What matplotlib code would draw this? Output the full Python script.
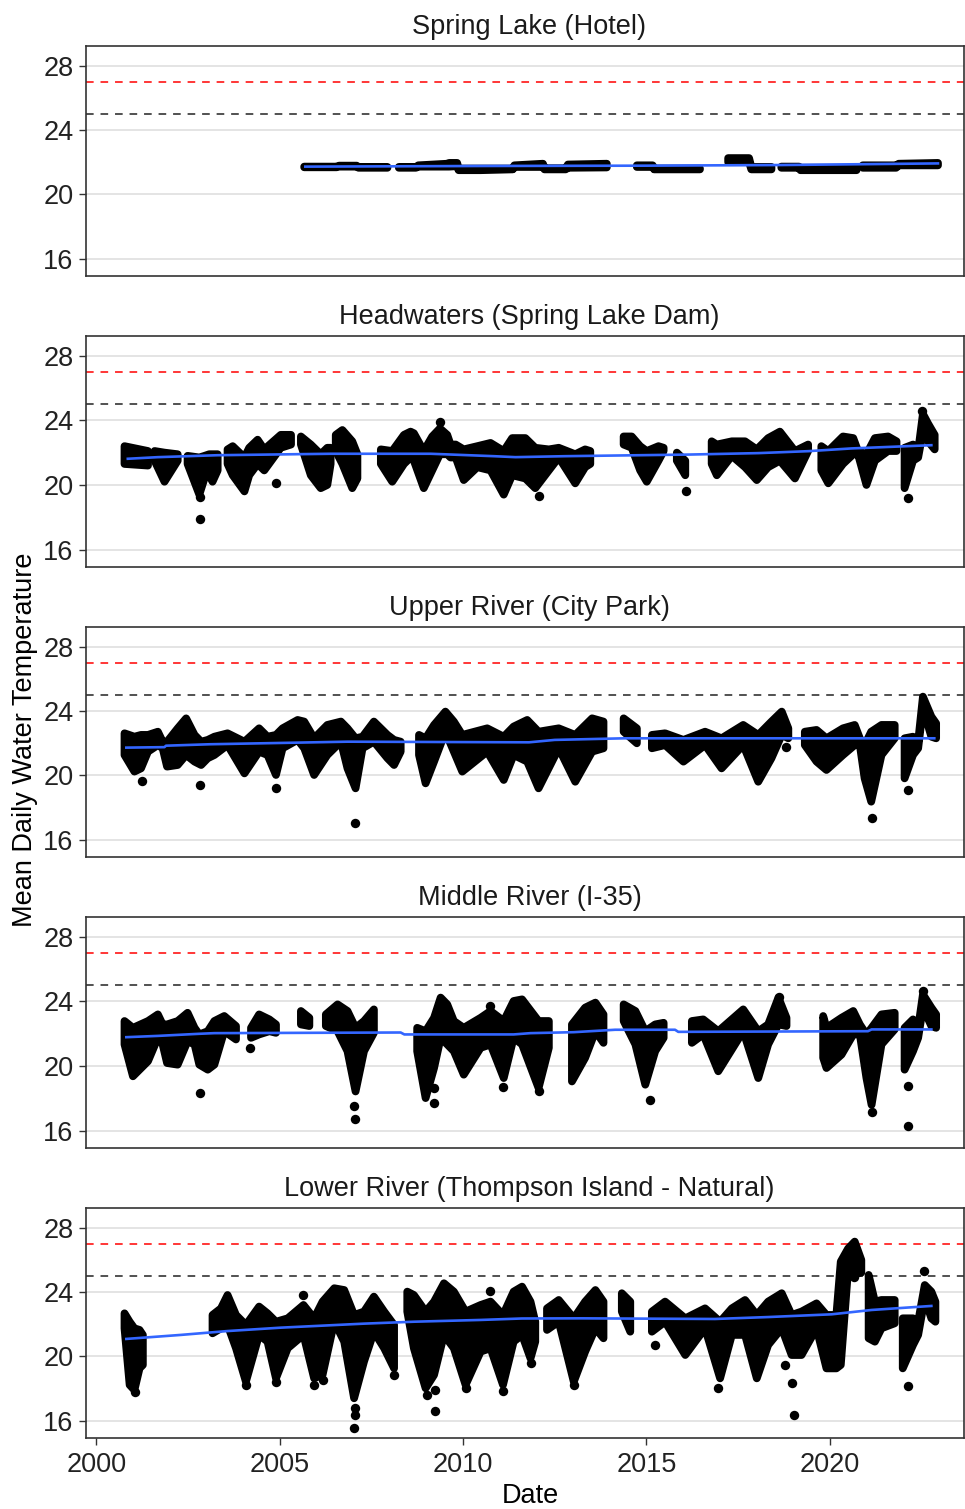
import numpy as np
import matplotlib
matplotlib.use("Agg")
import matplotlib.pyplot as plt

nan = np.nan

# ---------------- data ----------------
titles = ["Spring Lake (Hotel)", "Headwaters (Spring Lake Dam)", "Upper River (City Park)",
          "Middle River (I-35)", "Lower River (Thompson Island - Natural)"]
y_ticks = [16, 20, 24, 28]
x_ticks = [2000, 2005, 2010, 2015, 2020]
thresh_red = 27
thresh_black = 25

# Spring Lake (Hotel): daily-value envelope (low / high) by date
sl_t = [2005.67, 2006.55, 2006.62, 2007.10, 2007.15, 2007.94, nan, 2008.25, 2008.72, 2008.78, 2009.57,
        2009.62, 2009.84, 2009.88, 2010.48, 2011.36, 2011.40, 2012.18, 2012.22, 2012.80, 2012.86, 2013.92, nan,
        2014.74, 2015.17, 2015.21, 2016.46, nan, 2017.23, 2017.80, 2017.86, 2018.41, nan, 2018.68, 2019.16,
        2019.20, 2020.73, nan, 2020.90, 2021.81, 2021.88, 2022.95]
sl_lo = [21.68, 21.68, 21.72, 21.72, 21.65, 21.65, nan, 21.65, 21.65, 21.72, 21.72,
         21.72, 21.75, 21.50, 21.50, 21.55, 21.70, 21.70, 21.55, 21.55, 21.65, 21.67, nan,
         21.70, 21.70, 21.55, 21.55, nan, 22.00, 22.00, 21.55, 21.55, nan, 21.65, 21.65,
         21.50, 21.50, nan, 21.65, 21.65, 21.80, 21.80]
sl_hi = [21.72, 21.72, 21.78, 21.78, 21.70, 21.70, nan, 21.70, 21.70, 21.80, 21.90,
         21.95, 21.95, 21.60, 21.60, 21.60, 21.80, 21.90, 21.62, 21.62, 21.85, 21.90, nan,
         21.80, 21.80, 21.60, 21.60, nan, 22.25, 22.25, 21.70, 21.70, nan, 21.72, 21.72,
         21.65, 21.65, nan, 21.80, 21.80, 21.90, 21.95]
sl_pt_t = []
sl_pt_v = []
sl_fit_t = [2005.70, 2010.50, 2015.00, 2018.70, 2022.95]
sl_fit_v = [21.72, 21.76, 21.78, 21.82, 21.92]

# Headwaters (Spring Lake Dam)
hw_t = [2000.77, 2001.41, nan, 2001.59, 2001.86, 2002.22, nan, 2002.49, 2002.81, 2002.95, 2003.08, 2003.17,
        2003.31, nan, 2003.58, 2003.72, 2004.04, 2004.17, 2004.40, 2004.58, 2005.03, 2005.31, nan,
        2005.58, 2005.85, 2006.12, 2006.30, 2006.39, nan, 2006.53, 2006.71, 2006.98, 2007.12, nan,
        2007.76, 2008.07, 2008.39, 2008.57, 2008.66, 2008.93, 2009.16, 2009.37, 2009.57, 2009.66,
        2009.80, 2010.02, 2010.39, 2010.75, 2011.11, 2011.34, 2011.70, 2011.97, 2012.34, 2012.61,
        2013.06, 2013.33, 2013.47, nan, 2014.38, 2014.60, 2014.83, 2015.01, 2015.33, 2015.47, nan,
        2015.83, 2016.06, nan, 2016.78, 2016.92, 2017.33, 2017.69, 2018.01, 2018.32, 2018.64, 2019.05,
        2019.41, nan, 2019.77, 2019.96, 2020.36, 2020.64, 2020.77, 2021.00, 2021.23, 2021.59, 2021.82,
        nan, 2022.04, 2022.27, 2022.41, 2022.54, 2022.68, 2022.86]
hw_lo = [21.3, 21.2, nan, 21.5, 20.2, 21.5, nan, 21.3, 19.4, 20.4, 20.6, 20.2,
         20.9, nan, 21.3, 20.6, 19.6, 20.6, 21.3, 20.9, 22.3, 22.5, nan,
         22.5, 20.6, 19.8, 20.0, 21.3, nan, 22.1, 21.3, 19.8, 20.4, nan,
         21.3, 20.2, 21.3, 21.7, 21.5, 19.8, 20.9, 21.9, 21.9, 21.7,
         21.7, 20.3, 21.1, 20.9, 19.4, 20.6, 20.4, 19.8, 20.9, 21.7,
         20.1, 21.1, 21.3, nan, 22.5, 22.3, 20.9, 20.2, 21.5, 22.1, nan,
         21.5, 20.6, nan, 21.3, 20.6, 21.8, 21.1, 20.3, 21.1, 21.5, 20.4,
         22.1, nan, 20.9, 20.1, 21.3, 21.9, 21.9, 20.0, 21.5, 22.1, 22.1,
         nan, 19.8, 21.5, 21.7, 23.3, 22.7, 22.2]
hw_hi = [22.4, 22.1, nan, 22.1, 22.0, 21.9, nan, 21.8, 21.7, 21.8, 21.9, 21.9,
         21.9, nan, 22.2, 22.4, 21.7, 22.3, 22.8, 22.2, 23.1, 23.1, nan,
         23.0, 22.5, 21.9, 22.3, 22.3, nan, 23.1, 23.4, 22.7, 21.9, nan,
         22.2, 22.1, 23.1, 23.3, 23.2, 22.1, 23.0, 23.5, 23.1, 22.5,
         22.5, 22.2, 22.4, 22.6, 22.1, 22.9, 22.9, 22.3, 22.2, 22.3,
         21.9, 22.2, 22.1, nan, 23.0, 23.0, 22.4, 22.1, 22.4, 22.3, nan,
         22.0, 21.5, nan, 22.7, 22.5, 22.7, 22.7, 22.2, 22.9, 23.3, 22.1,
         22.5, nan, 22.4, 22.1, 23.0, 22.9, 22.1, 21.9, 22.9, 23.0, 22.7,
         nan, 22.3, 22.5, 22.1, 24.4, 23.8, 23.1]
hw_pt_t = [2002.84, 2002.84, 2004.90, 2009.37, 2012.08, 2016.07, 2022.14, 2022.51]
hw_pt_v = [17.90, 19.25, 20.12, 23.90, 19.33, 19.60, 19.20, 24.58]
hw_fit_t = [2000.86, 2001.68, 2003.31, 2006.39, 2009.12, 2010.84, 2011.43, 2012.79, 2016.15, 2018.05,
            2019.41, 2020.59, 2021.68, 2022.77]
hw_fit_v = [21.62, 21.72, 21.84, 21.93, 21.93, 21.78, 21.72, 21.78, 21.88, 21.97, 22.09, 22.26, 22.36, 22.46]

# Upper River (City Park)
up_t = [2000.77, 2001.04, 2001.22, 2001.41, 2001.68, 2001.81, 2001.93, 2002.22, 2002.45, 2002.68, 2002.86,
        2003.04, 2003.22, 2003.58, 2004.04, 2004.44, 2004.67, 2004.90, 2005.08, 2005.49, 2005.67, 2005.94,
        2006.30, 2006.67, 2006.85, 2007.07, 2007.26, 2007.57, 2007.94, 2008.12, 2008.30, nan,
        2008.80, 2008.98, 2009.21, 2009.52, 2009.75, 2009.98, 2010.66, 2011.11, 2011.38, 2011.75, 2012.06,
        2012.61, 2013.06, 2013.52, 2013.83, nan, 2014.38, 2014.74, nan, 2015.15, 2015.51, 2016.01, 2016.60,
        2017.05, 2017.64, 2018.05, 2018.41, 2018.69, 2018.87, nan, 2019.32, 2019.64, 2019.91, 2020.36,
        2020.68, 2020.82, 2020.95, 2021.13, 2021.41, 2021.77, nan, 2022.04, 2022.27, 2022.41, 2022.54,
        2022.77, 2022.90]
up_lo = [21.26, 20.23, 20.43, 21.47, 21.88, 21.68, 20.54, 20.64, 21.26, 20.85, 20.64,
         21.06, 21.26, 21.88, 20.12, 21.47, 21.26, 20.02, 21.68, 22.20, 21.68, 20.02,
         21.26, 22.09, 20.43, 19.19, 21.68, 22.09, 21.06, 20.64, 21.47, nan,
         21.26, 19.50, 20.85, 22.71, 21.47, 20.23, 21.47, 19.71, 21.26, 20.85, 19.19,
         21.68, 19.60, 21.47, 21.68, nan, 22.71, 21.99, nan, 21.68, 21.88, 20.85, 21.88,
         20.43, 21.88, 19.60, 21.06, 22.51, 22.30, nan, 21.88, 20.85, 20.33, 21.26,
         21.88, 21.88, 19.81, 18.36, 21.26, 22.30, nan, 19.81, 21.26, 21.68, 24.16,
         22.40, 22.30]
up_hi = [22.61, 22.40, 22.51, 22.51, 22.71, 22.09, 22.09, 22.92, 23.54, 22.51, 22.09,
         22.20, 22.40, 22.61, 22.09, 22.92, 22.40, 22.51, 22.92, 23.44, 23.34, 22.30,
         23.13, 23.34, 22.92, 22.30, 22.40, 23.34, 22.51, 22.20, 22.09, nan,
         22.51, 22.30, 23.13, 23.96, 23.34, 22.51, 22.92, 22.40, 23.03, 23.44, 22.71,
         22.92, 22.51, 23.54, 23.34, nan, 23.54, 22.92, nan, 22.51, 22.61, 22.20, 22.71,
         22.30, 23.13, 22.51, 23.34, 23.96, 22.92, nan, 22.71, 22.82, 22.30, 22.92,
         23.13, 22.30, 21.88, 22.71, 23.13, 23.13, nan, 22.30, 22.40, 22.09, 24.89,
         23.65, 23.23]
up_pt_t = [2001.24, 2002.84, 2004.90, 2007.06, 2018.82, 2021.14, 2022.14]
up_pt_v = [19.65, 19.40, 19.19, 17.05, 21.74, 17.37, 19.09]
up_fit_t = [2000.82, 2001.86, 2001.90, 2003.10, 2005.00, 2006.85, 2011.80, 2012.50, 2014.40, 2022.85]
up_fit_v = [21.72, 21.75, 21.84, 21.93, 22.01, 22.09, 22.05, 22.20, 22.30, 22.30]

# Middle River (I-35)
mid_t = [2000.77, 2001.00, 2001.41, 2001.68, 2001.81, 2001.93, 2002.22, 2002.49, 2002.68, 2002.81, 2003.04,
         2003.22, 2003.49, 2003.81, nan, 2004.22, 2004.44, 2004.72, 2004.90, nan, 2005.58, 2005.81, nan,
         2006.26, 2006.58, 2006.85, 2007.07, 2007.30, 2007.57, nan, 2008.75, 2008.98, 2009.21, 2009.39,
         2009.57, 2009.75, 2010.02, 2010.48, 2010.75, 2011.11, 2011.38, 2011.61, 2012.06, 2012.34, nan,
         2012.97, 2013.33, 2013.61, 2013.83, nan, 2014.38, 2014.70, 2014.97, 2015.24, 2015.47, nan,
         2016.24, 2016.55, 2016.96, 2017.64, 2018.05, 2018.32, 2018.60, 2018.82, nan, 2019.82, 2019.91,
         2020.32, 2020.64, 2020.82, 2021.00, 2021.14, 2021.41, 2021.77, nan, 2022.04, 2022.27, 2022.41,
         2022.54, 2022.77, 2022.90]
mid_lo = [21.33, 19.36, 20.29, 21.74, 21.33, 20.18, 20.08, 21.53, 21.33, 20.08, 19.77,
          20.08, 22.15, 21.64, nan, 21.74, 21.95, 22.15, 22.05, nan, 22.57, 22.47, nan,
          22.47, 22.15, 20.91, 18.42, 20.91, 22.05, nan, 20.91, 18.01, 19.87, 21.74,
          21.33, 20.91, 19.46, 21.12, 21.33, 19.25, 21.74, 21.33, 18.63, 21.12, nan,
          19.04, 20.50, 22.15, 21.43, nan, 22.78, 21.33, 18.84, 20.91, 21.74, nan,
          21.43, 21.95, 19.67, 22.15, 19.25, 21.33, 22.57, 22.47, nan, 20.50, 19.87,
          20.70, 21.95, 21.95, 19.25, 17.59, 21.33, 22.26, nan, 19.77, 20.91, 21.74,
          23.61, 22.47, 22.36]
mid_hi = [22.78, 22.36, 22.78, 23.19, 22.57, 22.57, 22.78, 23.29, 22.36, 21.95, 22.15,
          22.78, 23.09, 22.47, nan, 22.36, 23.19, 22.88, 22.57, nan, 23.40, 22.98, nan,
          23.19, 23.81, 23.40, 22.36, 22.78, 23.50, nan, 22.36, 22.15, 22.98, 24.23,
          23.81, 22.78, 22.36, 22.98, 23.40, 22.78, 24.02, 24.12, 22.78, 22.78, nan,
          22.57, 23.61, 23.92, 23.19, nan, 23.81, 23.40, 22.15, 22.57, 22.67, nan,
          22.78, 22.88, 22.15, 23.50, 22.15, 22.57, 24.23, 22.98, nan, 23.09, 22.36,
          22.98, 23.40, 22.57, 21.95, 22.36, 23.19, 23.29, nan, 22.36, 22.88, 22.36,
          24.43, 23.61, 23.19]
mid_pt_t = [2002.84, 2004.20, 2007.03, 2007.06, 2009.22, 2009.22, 2010.73, 2011.09, 2012.06, 2015.09,
            2018.61, 2021.14, 2022.13, 2022.13, 2022.54]
mid_pt_v = [18.32, 21.12, 17.49, 16.72, 17.70, 18.63, 23.71, 18.67, 18.42, 17.90,
            24.27, 17.14, 18.73, 16.29, 24.64]
mid_fit_t = [2000.82, 2001.68, 2002.81, 2003.22, 2008.30, 2008.40, 2011.38, 2011.84, 2013.02, 2014.15,
             2015.78, 2015.87, 2021.04, 2021.14, 2022.77]
mid_fit_v = [21.78, 21.86, 21.99, 22.03, 22.07, 21.95, 21.95, 22.03, 22.09, 22.24,
             22.24, 22.11, 22.15, 22.26, 22.26]

# Lower River (Thompson Island - Natural)
low_t = [2000.77, 2000.91, 2001.04, 2001.18, 2001.27, nan, 2003.17, 2003.40, 2003.58, 2003.81, 2004.08,
         2004.44, 2004.67, 2004.90, 2005.22, 2005.65, 2005.94, 2006.17, 2006.49, 2006.76, 2007.03, 2007.30,
         2007.57, 2007.85, 2008.12, nan, 2008.48, 2008.66, 2008.98, 2009.21, 2009.48, 2009.75, 2010.07,
         2010.48, 2010.75, 2011.09, 2011.38, 2011.61, 2011.84, 2011.97, nan, 2012.29, 2012.61, 2013.02,
         2013.33, 2013.61, 2013.83, nan, 2014.33, 2014.56, nan, 2015.15, 2015.51, 2016.06, 2016.60,
         2017.01, 2017.33, 2017.69, 2018.01, 2018.32, 2018.69, 2018.96, 2019.23, 2019.64, 2019.91,
         2020.18, 2020.30, 2020.50, 2020.68, 2020.86, nan, 2021.06, 2021.23, 2021.41, 2021.77, nan,
         2021.99, 2022.27, 2022.41, 2022.59, 2022.77, 2022.88]
low_lo = [21.74, 18.22, 17.90, 19.25, 19.46, nan, 21.43, 21.74, 21.95, 20.50, 18.42,
          21.33, 20.91, 18.63, 20.50, 21.33, 18.63, 18.84, 22.15, 20.91, 17.39, 19.67,
          21.53, 20.50, 19.25, nan, 22.78, 20.50, 18.01, 18.84, 21.33, 20.50, 18.22,
          20.29, 20.50, 18.22, 20.91, 21.33, 19.87, 20.91, nan, 21.64, 22.15, 18.42,
          20.29, 21.74, 21.12, nan, 22.78, 21.53, nan, 21.53, 22.15, 20.08, 21.74,
          18.63, 21.33, 21.33, 18.63, 20.70, 21.74, 20.08, 20.08, 21.74, 19.25,
          19.25, 19.46, 25.41, 25.10, 25.20, nan, 21.12, 20.91, 21.74, 22.05, nan,
          19.25, 20.70, 21.33, 23.61, 22.36, 22.15]
low_hi = [22.67, 22.15, 21.74, 21.64, 21.33, nan, 22.57, 22.98, 23.81, 22.57, 21.95,
          23.09, 22.67, 22.15, 22.36, 23.19, 22.36, 23.40, 24.23, 24.12, 22.57, 22.78,
          23.71, 22.78, 21.95, nan, 24.02, 23.81, 22.78, 23.40, 24.54, 24.02, 22.78,
          23.19, 23.40, 22.57, 24.02, 24.33, 23.40, 22.15, nan, 22.98, 23.50, 22.36,
          23.40, 24.12, 23.40, nan, 23.92, 23.40, nan, 22.78, 23.40, 22.36, 22.98,
          22.15, 22.98, 23.50, 22.57, 23.40, 23.92, 22.57, 22.78, 23.29, 22.57,
          22.57, 25.89, 26.70, 27.13, 25.99, nan, 25.06, 23.40, 23.50, 23.50, nan,
          22.36, 22.36, 22.15, 24.43, 24.02, 23.40]
low_pt_t = [2001.05, 2004.08, 2004.90, 2005.65, 2005.94, 2006.17, 2007.03, 2007.05, 2007.05, 2008.12,
            2009.02, 2009.23, 2009.24, 2010.07, 2010.74, 2011.09, 2011.84, 2013.02, 2015.24, 2016.96,
            2018.78, 2018.96, 2019.03, 2020.67, 2022.13, 2022.57]
low_pt_v = [17.76, 18.22, 18.42, 23.81, 18.22, 18.53, 15.52, 16.35, 16.77, 18.84,
            17.59, 17.90, 16.60, 18.01, 24.06, 17.84, 19.56, 18.22, 20.70, 18.01,
            19.46, 18.32, 16.35, 24.95, 18.15, 25.33]
low_fit_t = [2000.82, 2002.31, 2003.58, 2005.03, 2007.30, 2008.66, 2010.48, 2011.60, 2013.24, 2016.87,
             2018.32, 2020.05, 2021.14, 2022.77]
low_fit_v = [21.08, 21.33, 21.57, 21.78, 22.03, 22.15, 22.26, 22.35, 22.36, 22.32,
             22.44, 22.61, 22.88, 23.13]

panels = [
    (sl_t, sl_lo, sl_hi, sl_pt_t, sl_pt_v, sl_fit_t, sl_fit_v),
    (hw_t, hw_lo, hw_hi, hw_pt_t, hw_pt_v, hw_fit_t, hw_fit_v),
    (up_t, up_lo, up_hi, up_pt_t, up_pt_v, up_fit_t, up_fit_v),
    (mid_t, mid_lo, mid_hi, mid_pt_t, mid_pt_v, mid_fit_t, mid_fit_v),
    (low_t, low_lo, low_hi, low_pt_t, low_pt_v, low_fit_t, low_fit_v),
]

# ---------------- drawing ----------------
plt.rcParams['font.family'] = ['Liberation Sans', 'DejaVu Sans']
FS = 19.5
W, H = 965, 1509
fig = plt.figure(figsize=(W / 100, H / 100), dpi=100)

boxes = [(46, 276), (336, 567), (627, 857), (917, 1148), (1208, 1438)]
left_px, right_px = 86, 964
edge_lw = 5.6  # points: thickness of daily dots

for i, ((top, bot), title, data) in enumerate(zip(boxes, titles, panels)):
    t, lo, hi, pt_t, pt_v, fit_t, fit_v = data
    ax = fig.add_axes([left_px / W, 1 - bot / H, (right_px - left_px) / W, (bot - top) / H])
    ax.set_xlim(1999.72, 2023.66)
    ax.set_ylim(14.92, 29.22)
    ax.set_yticks(y_ticks)
    ax.set_xticks(x_ticks)
    ax.grid(axis='y', color='#DCDCDC', linewidth=1.1)
    ax.grid(axis='x', visible=False)
    ax.set_axisbelow(True)
    for s in ax.spines.values():
        s.set_color('#333333')
        s.set_linewidth(1.2)
    ax.tick_params(axis='y', length=5, width=1.0, color='#333333', pad=4,
                   labelsize=FS, labelcolor='#222222')
    if i == len(boxes) - 1:
        ax.tick_params(axis='x', length=5, width=1.0, color='#333333', pad=5,
                       labelsize=FS, labelcolor='#222222')
    else:
        ax.tick_params(axis='x', length=0, labelbottom=False)

    ax.axhline(thresh_red, color='#FF0000', linewidth=1.1, linestyle=(0, (5, 4.5)), zorder=1.5)
    ax.axhline(thresh_black, color='#222222', linewidth=1.1, linestyle=(0, (5, 4.5)), zorder=1.5)

    ax.fill_between(t, lo, hi, facecolor='black', edgecolor='black',
                    linewidth=edge_lw, joinstyle='round', capstyle='round', zorder=2)
    if len(pt_t):
        ax.scatter(pt_t, pt_v, s=46, color='black', linewidths=0, zorder=2.1)
    ax.plot(fit_t, fit_v, color='#3366FF', linewidth=1.9, zorder=3)
    ax.set_title(title, fontsize=FS, color='#1A1A1A', pad=9, x=0.505)

fig.text(25 / W, 1 - 740 / H, "Mean Daily Water Temperature", rotation=90,
         ha='center', va='center', fontsize=FS, color='black')
fig.text(530 / W, 1 - 1496 / H, "Date", ha='center', va='center', fontsize=FS, color='black')

fig.savefig("out.png", dpi=100)
